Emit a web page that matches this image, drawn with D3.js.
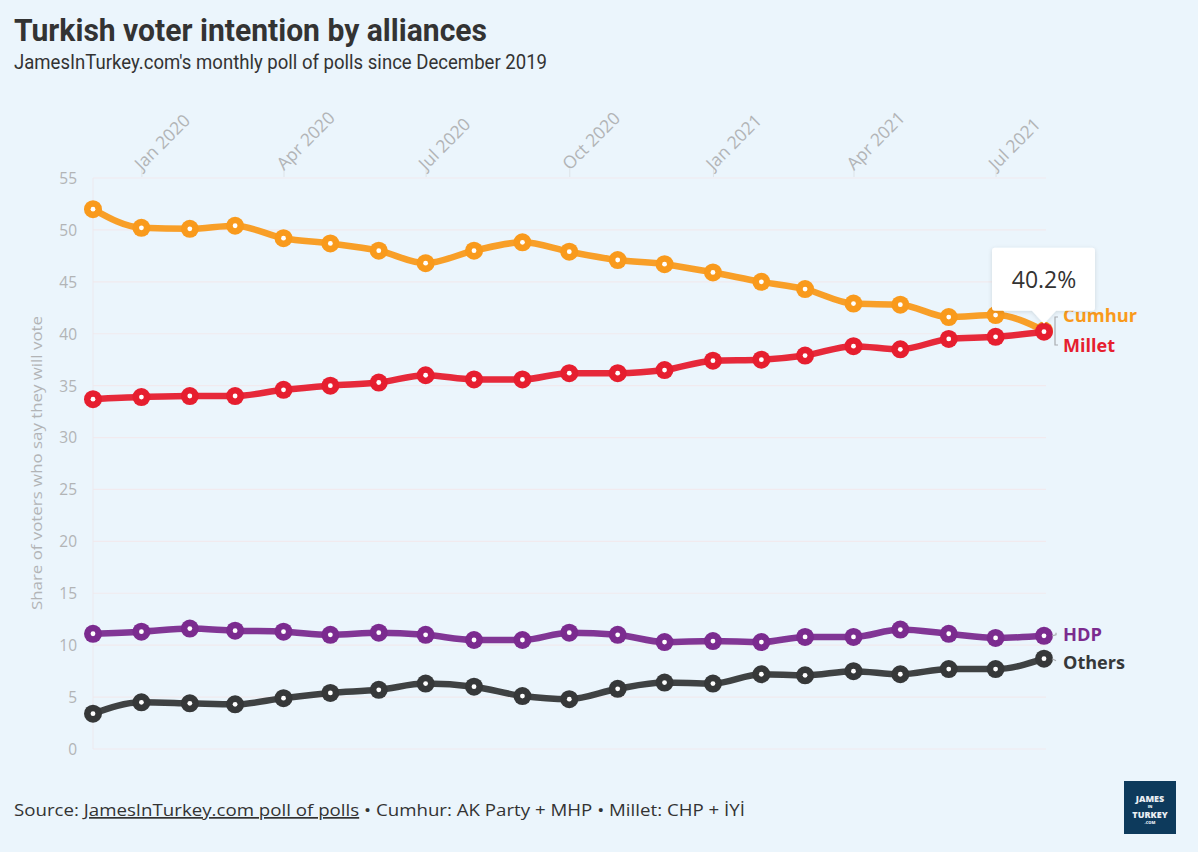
<!DOCTYPE html>
<html>
<head>
<meta charset="utf-8">
<script src="https://cdn.jsdelivr.net/npm/d3@7"></script>
<style>
  html, body { margin: 0; padding: 0; background: #ebf5fc; }
  svg { display: block; }
</style>
</head>
<body>
<svg id="chart" width="1198" height="852"></svg>
<script>
// ---- Data ----
const months = ["2019-12","2020-01","2020-02","2020-03","2020-04","2020-05","2020-06","2020-07","2020-08","2020-09","2020-10","2020-11","2020-12","2021-01","2021-02","2021-03","2021-04","2021-05","2021-06","2021-07","2021-08"];
const cumhur = [52.0, 50.2, 50.1, 50.4, 49.2, 48.7, 48.0, 46.8, 48.0, 48.8, 47.9, 47.1, 46.7, 45.9, 45.0, 44.3, 42.9, 42.8, 41.6, 41.8, 40.3];
const millet = [33.7, 33.9, 34.0, 34.0, 34.6, 35.0, 35.3, 36.0, 35.6, 35.6, 36.2, 36.2, 36.5, 37.4, 37.5, 37.9, 38.8, 38.5, 39.5, 39.7, 40.2];
const hdp    = [11.1, 11.3, 11.6, 11.4, 11.3, 11.0, 11.2, 11.0, 10.5, 10.5, 11.2, 11.0, 10.3, 10.4, 10.3, 10.8, 10.8, 11.5, 11.1, 10.7, 10.9];
const others = [3.4, 4.5, 4.4, 4.3, 4.9, 5.4, 5.7, 6.3, 6.0, 5.1, 4.8, 5.8, 6.4, 6.3, 7.2, 7.1, 7.5, 7.2, 7.7, 7.7, 8.7];
const yTicks = [0, 5, 10, 15, 20, 25, 30, 35, 40, 45, 50, 55];
const xTickMonths = ["2020-01","2020-04","2020-07","2020-10","2021-01","2021-04","2021-07"];
const seriesNames = ["Others", "HDP", "Cumhur", "Millet"];
const tooltipValue = "40.2%";

const colors = { Cumhur: "#f99a1c", Millet: "#e61e2f", HDP: "#7b2b8f", Others: "#363839" };
const seriesData = { Cumhur: cumhur, Millet: millet, HDP: hdp, Others: others };

const parse = d3.utcParse("%Y-%m");
const dates = months.map(parse);

const svg = d3.select("#chart");
const W = 1198, H = 852;
const mLeft = 93, mRight = 1044, mTop = 178, mBottom = 749;

const x = d3.scaleUtc().domain([dates[0], dates[dates.length - 1]]).range([mLeft, mRight]);
const y = d3.scaleLinear().domain([0, 55]).range([mBottom, mTop]);

svg.append("rect").attr("width", W).attr("height", H).attr("fill", "#ebf5fc");

// Title and subtitle
svg.append("text").attr("x", 14).attr("y", 41)
  .attr("font-family", "Roboto, 'Liberation Sans', sans-serif")
  .attr("font-weight", 700).attr("font-size", 31).attr("fill", "#333333")
  .attr("textLength", 473).attr("lengthAdjust", "spacingAndGlyphs")
  .text("Turkish voter intention by alliances");
svg.append("text").attr("x", 14).attr("y", 69)
  .attr("font-family", "Roboto, 'Liberation Sans', sans-serif")
  .attr("font-weight", 400).attr("font-size", 19.5).attr("fill", "#333333")
  .attr("textLength", 533).attr("lengthAdjust", "spacingAndGlyphs")
  .text("JamesInTurkey.com's monthly poll of polls since December 2019");

// Gridlines
const grid = svg.append("g");
grid.selectAll("line").data(yTicks).join("line")
  .attr("x1", mLeft).attr("x2", mRight + 2)
  .attr("y1", d => y(d)).attr("y2", d => y(d))
  .attr("stroke", "#f1eaee").attr("stroke-width", 1.2);
svg.append("line").attr("x1", mLeft).attr("x2", mLeft).attr("y1", mTop).attr("y2", mBottom)
  .attr("stroke", "#ece9ee").attr("stroke-width", 1);

// Y axis labels
const yAxis = d3.axisLeft(y).tickValues(yTicks).tickSize(0).tickPadding(0);
const yg = svg.append("g").attr("transform", `translate(${77},0)`).call(yAxis);
yg.select(".domain").remove();
yg.selectAll("text").attr("font-family", "'Open Sans', sans-serif").attr("font-size", 15.5)
  .attr("fill", "#b2b4b6").attr("dy", "0.35em");

svg.append("text")
  .attr("transform", `translate(42,463) rotate(-90)`)
  .attr("text-anchor", "middle")
  .attr("font-family", "'Open Sans', sans-serif").attr("font-size", 15).attr("fill", "#b2b4b6")
  .attr("textLength", 294).attr("lengthAdjust", "spacingAndGlyphs")
  .text("Share of voters who say they will vote");

// Top x axis
const xAxis = d3.axisTop(x).tickValues(xTickMonths.map(parse)).tickSize(10).tickFormat(d3.utcFormat("%b %Y"));
const xg = svg.append("g").attr("transform", `translate(0,${mTop - 1})`).call(xAxis);
xg.select(".domain").remove();
xg.selectAll(".tick line").attr("stroke", "#dde3e8");
xg.selectAll(".tick text")
  .attr("font-family", "'Open Sans', sans-serif").attr("font-size", 17.5).attr("fill", "#b2b4b6")
  .attr("text-anchor", "start").attr("x", 0).attr("y", 0).attr("dy", 0)
  .attr("transform", "translate(0,-6) rotate(-45)");

// Lines
const line = d3.line().x((d, i) => x(dates[i])).y(d => y(d)).curve(d3.curveMonotoneX);
const gSeries = svg.append("g");
seriesNames.forEach(name => {
  const vals = seriesData[name];
  const g = gSeries.append("g");
  g.append("path").datum(vals).attr("d", line)
    .attr("fill", "none").attr("stroke", colors[name]).attr("stroke-width", 6.5)
    .attr("stroke-linejoin", "round").attr("stroke-linecap", "round")
    .attr("opacity", 0.95);
  g.selectAll("circle.m").data(vals).join("circle").attr("class", "m")
    .attr("cx", (d, i) => x(dates[i])).attr("cy", d => y(d)).attr("r", 9)
    .attr("fill", colors[name]);
  g.selectAll("circle.c").data(vals).join("circle").attr("class", "c")
    .attr("cx", (d, i) => x(dates[i])).attr("cy", d => y(d)).attr("r", 2.4)
    .attr("fill", "#ffffff");
});

// Right-hand labels and connectors
const lastX = x(dates[dates.length - 1]);
const lc = "#a9acb0";
const ym = y(millet[millet.length - 1]);
const labelYC = 316, labelYM = 346;
const conn = svg.append("g").attr("stroke", lc).attr("stroke-width", 1.2).attr("fill", "none");
conn.append("path").attr("d", `M${lastX + 14},${labelYC + 1} H${lastX + 11} V${labelYM - 1} H${lastX + 14}`);
const yh = y(hdp[hdp.length - 1]), yo = y(others[others.length - 1]);
conn.append("path").attr("d", `M${lastX + 8},${yh} L${lastX + 12},${yh - 1} V${yh - 3}`);
conn.append("path").attr("d", `M${lastX + 8},${yo} L${lastX + 12},${yo + 2}`);

const labels = [
  { name: "Cumhur", y: labelYC },
  { name: "Millet", y: labelYM },
  { name: "HDP", y: yh - 1 },
  { name: "Others", y: yo + 4 }
];
svg.append("g").selectAll("text").data(labels).join("text")
  .attr("x", lastX + 19).attr("y", d => d.y).attr("dy", "0.36em")
  .attr("font-family", "'Open Sans', sans-serif").attr("font-weight", 700).attr("font-size", 17)
  .attr("fill", d => colors[d.name])
  .attr("textLength", d => ({Cumhur: 74, Millet: 52, HDP: 39, Others: 62}[d.name]))
  .attr("lengthAdjust", "spacingAndGlyphs")
  .text(d => d.name);

// Tooltip
const defs = svg.append("defs");
const f = defs.append("filter").attr("id", "shadow").attr("x", "-20%").attr("y", "-20%").attr("width", "140%").attr("height", "150%");
f.append("feDropShadow").attr("dx", 0).attr("dy", 1).attr("stdDeviation", 2).attr("flood-color", "#000").attr("flood-opacity", 0.12);
const tx = lastX, ty = ym - 8;
const tip = svg.append("g");
tip.append("path")
  .attr("d", `M${tx - 49},${ty - 76} H${tx + 48} Q${tx + 51},${ty - 76} ${tx + 51},${ty - 73} V${ty - 16} Q${tx + 51},${ty - 13} ${tx + 48},${ty - 13} H${tx + 12} L${tx},${ty} L${tx - 12},${ty - 13} H${tx - 49} Q${tx - 52},${ty - 13} ${tx - 52},${ty - 16} V${ty - 73} Q${tx - 52},${ty - 76} ${tx - 49},${ty - 76} Z`)
  .attr("fill", "#ffffff").attr("filter", "url(#shadow)");
tip.append("text").attr("x", tx).attr("y", ty - 36).attr("text-anchor", "middle")
  .attr("font-family", "'Open Sans', sans-serif").attr("font-size", 23).attr("fill", "#333333")
  .text(tooltipValue);

// Footer
const foot = svg.append("text").attr("x", 14).attr("y", 816)
  .attr("font-family", "'Open Sans', sans-serif").attr("font-size", 17).attr("fill", "#333333")
  .attr("textLength", 731).attr("lengthAdjust", "spacingAndGlyphs");
foot.append("tspan").text("Source: ");
foot.append("tspan").attr("text-decoration", "underline").text("JamesInTurkey.com poll of polls");
foot.append("tspan").text(" \u2022 Cumhur: AK Party + MHP \u2022 Millet: CHP + \u0130Y\u0130");

// Logo
const logo = svg.append("g").attr("transform", "translate(1124,781)");
logo.append("rect").attr("width", 52).attr("height", 53).attr("fill", "#0d3a5c");
const lt = [{t: "JAMES", y: 21, s: 9}, {t: "IN", y: 27, s: 4}, {t: "TURKEY", y: 37, s: 9}, {t: ".COM", y: 43, s: 4}];
logo.selectAll("text").data(lt).join("text")
  .attr("x", 26).attr("y", d => d.y).attr("text-anchor", "middle")
  .attr("font-family", "'Open Sans', sans-serif").attr("font-weight", 800)
  .attr("font-size", d => d.s).attr("fill", "#e9eef3").text(d => d.t);
</script>
</body>
</html>
